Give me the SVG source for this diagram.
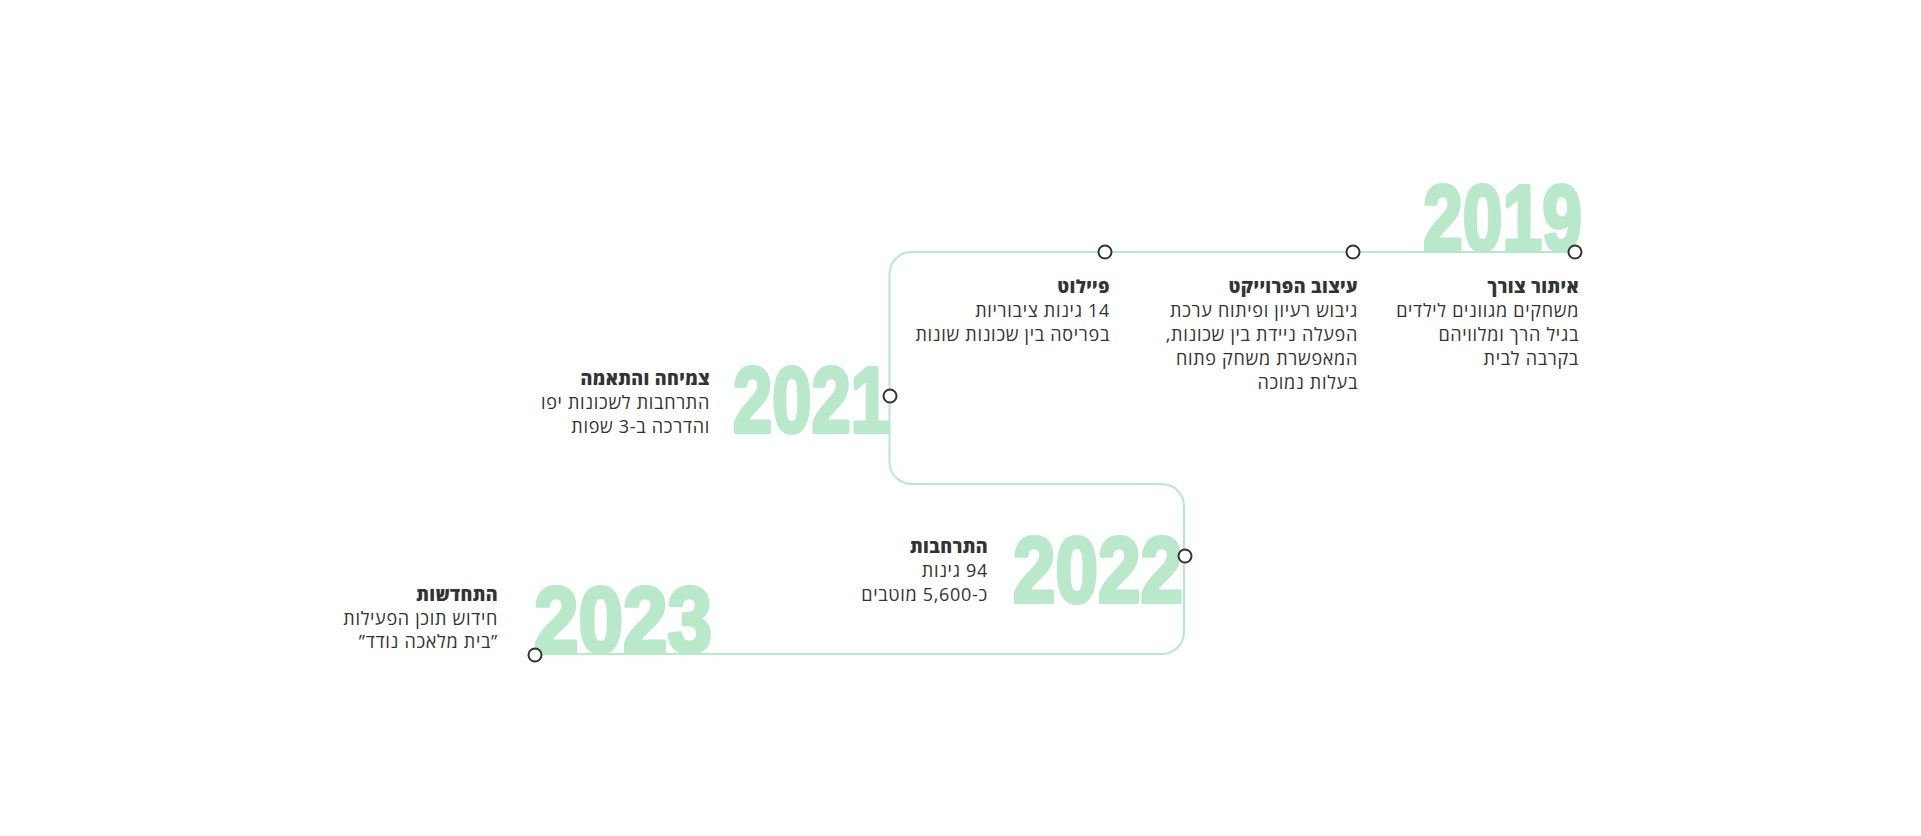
<svg xmlns="http://www.w3.org/2000/svg" width="1921" height="836" viewBox="0 0 1921 836">
<style>
.year{font-family:"Liberation Sans","DejaVu Sans",sans-serif;font-weight:700;font-size:92px;fill:#b9e9ca;stroke:#b9e9ca;stroke-width:4;stroke-linejoin:round}
.t{font-family:"Open Sans","Liberation Sans","DejaVu Sans",sans-serif;font-size:18px;letter-spacing:0.7px;fill:#333333;direction:rtl;unicode-bidi:embed}
.b{font-weight:800;letter-spacing:0.4px}
.line{fill:none;stroke:#b7e8c8;stroke-width:2}
.dot{fill:#ffffff;stroke:#333333;stroke-width:2}
</style>
<rect width="1921" height="836" fill="#ffffff"/>
<g id="years">
<text class="year" x="1423" y="250" textLength="159" lengthAdjust="spacingAndGlyphs">2019</text>
<text class="year" x="733" y="432" textLength="157" lengthAdjust="spacingAndGlyphs">2021</text>
<text class="year" x="1013" y="602" textLength="170" lengthAdjust="spacingAndGlyphs">2022</text>
<text class="year" x="534" y="652" textLength="178" lengthAdjust="spacingAndGlyphs">2023</text>
</g>
<g id="connectors">
<path class="line" d="M1575 252 H911.5 A22 22 0 0 0 889.5 274 V462 A22 22 0 0 0 911.5 484 H1162 A22 22 0 0 1 1184 506 V632 A22 22 0 0 1 1162 654 H535"/>
</g>
<g id="node-2019">
<circle class="dot" cx="1575" cy="252" r="6.5"/>
<text class="t b" x="1579" y="293" text-anchor="start">איתור צורך</text>
<text class="t" x="1579" y="317" text-anchor="start">משחקים מגוונים לילדים</text>
<text class="t" x="1579" y="341" text-anchor="start">בגיל הרך ומלוויהם</text>
<text class="t" x="1579" y="365" text-anchor="start">בקרבה לבית</text>
</g>
<g id="node-design">
<circle class="dot" cx="1353" cy="252" r="6.5"/>
<text class="t b" x="1358" y="293" text-anchor="start">עיצוב הפרוייקט</text>
<text class="t" x="1358" y="317" text-anchor="start">גיבוש רעיון ופיתוח ערכת</text>
<text class="t" x="1358" y="341" text-anchor="start">הפעלה ניידת בין שכונות,</text>
<text class="t" x="1358" y="365" text-anchor="start">המאפשרת משחק פתוח</text>
<text class="t" x="1358" y="389" text-anchor="start">בעלות נמוכה</text>
</g>
<g id="node-pilot">
<circle class="dot" cx="1105" cy="252" r="6.5"/>
<text class="t b" x="1110" y="293" text-anchor="start">פיילוט</text>
<text class="t" x="1110" y="317" text-anchor="start">14 גינות ציבוריות</text>
<text class="t" x="1110" y="341" text-anchor="start">בפריסה בין שכונות שונות</text>
</g>
<g id="node-2021">
<circle class="dot" cx="890" cy="396" r="6.5"/>
<text class="t b" x="710" y="385" text-anchor="start">צמיחה והתאמה</text>
<text class="t" x="710" y="409" text-anchor="start">התרחבות לשכונות יפו</text>
<text class="t" x="710" y="433" text-anchor="start">והדרכה ב-3 שפות</text>
</g>
<g id="node-2022">
<circle class="dot" cx="1185" cy="556" r="6.5"/>
<text class="t b" x="988" y="553" text-anchor="start">התרחבות</text>
<text class="t" x="988" y="577" text-anchor="start">94 גינות</text>
<text class="t" x="988" y="601" text-anchor="start">כ-5,600 מוטבים</text>
</g>
<g id="node-2023">
<circle class="dot" cx="535" cy="655" r="6.5"/>
<text class="t b" x="498" y="601" text-anchor="start">התחדשות</text>
<text class="t" x="498" y="625" text-anchor="start">חידוש תוכן הפעילות</text>
<text class="t" x="498" y="648" text-anchor="start">”בית מלאכה נודד”</text>
</g>
</svg>
